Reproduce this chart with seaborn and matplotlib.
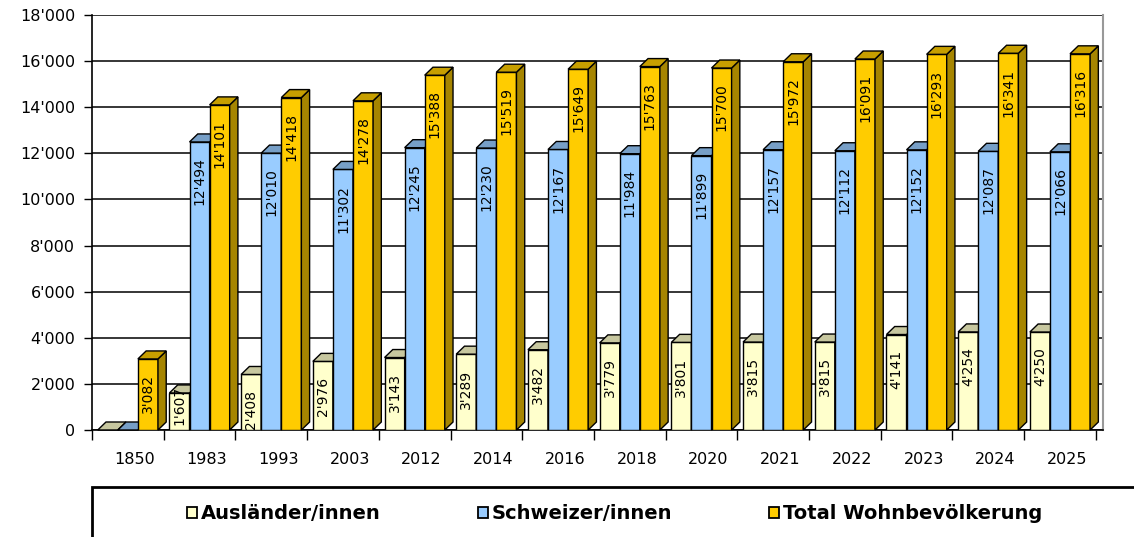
import numpy as np
import pandas as pd
import seaborn as sns
import matplotlib.pyplot as plt
from matplotlib.patches import Polygon, Rectangle
from matplotlib.colors import to_rgb
from matplotlib.ticker import FuncFormatter, FixedLocator
from matplotlib.transforms import ScaledTranslation

jahre = ["1850", "1983", "1993", "2003", "2012", "2014", "2016",
         "2018", "2020", "2021", "2022", "2023", "2024", "2025"]
auslaender = [0, 1607, 2408, 2976, 3143, 3289, 3482, 3779, 3801, 3815, 3815, 4141, 4254, 4250]
schweizer = [0, 12494, 12010, 11302, 12245, 12230, 12167, 11984, 11899, 12157, 12112, 12152, 12087, 12066]
total = [3082, 14101, 14418, 14278, 15388, 15519, 15649, 15763, 15700, 15972, 16091, 16293, 16341, 16316]

serien = ["Ausländer/innen", "Schweizer/innen", "Total Wohnbevölkerung"]
farben = ["#FFFFCC", "#99CCFF", "#FFCC00"]

df = pd.DataFrame({
    "Jahr": jahre * 3,
    "Serie": np.repeat(serien, len(jahre)),
    "Wert": auslaender + schweizer + total,
})


def fmt(v):
    return f"{v:,.0f}".replace(",", "'")


sns.set_style("white")
plt.rcParams["font.family"] = ["DejaVu Sans"]
plt.rcParams["text.color"] = "black"
plt.rcParams["xtick.color"] = "black"
plt.rcParams["ytick.color"] = "black"

fig = plt.figure(figsize=(11.34, 5.37), dpi=100)
ax = fig.add_axes([92 / 1134, 107 / 537, 1011 / 1134, 415 / 537])

sns.barplot(data=df, x="Jahr", y="Wert", hue="Serie", hue_order=serien,
            palette=farben, width=0.84, saturation=1, edgecolor="black",
            linewidth=1, errorbar=None, legend=False, ax=ax)

ax.set_xlim(-0.5, 13.6)
ax.set_ylim(0, 18000)

# pseudo 3D: top and side faces computed from the bars
dx = 0.115
dy = 8 * 18000 / 415
for i, cont in enumerate(ax.containers):
    base = np.array(to_rgb(farben[i]))
    top_c = base * 0.78
    side_c = base * 0.65
    for p in cont.patches:
        x0, w, h = p.get_x(), p.get_width(), p.get_height()
        x1 = x0 + w
        p.set_zorder(3 + i)
        top = Polygon([(x0, h), (x1, h), (x1 + dx, h + dy), (x0 + dx, h + dy)],
                      closed=True, fc=top_c, ec="black", lw=1, zorder=3 + i, clip_on=False)
        side = Polygon([(x1, 0), (x1, h), (x1 + dx, h + dy), (x1 + dx, dy)],
                       closed=True, fc=side_c, ec="black", lw=1, zorder=3 + i, clip_on=False)
        ax.add_patch(side)
        ax.add_patch(top)
        if h <= 0:
            continue
        xc = x0 + w / 2
        # short bar: label pokes out of the top like in the original
        off = 5 if h < 2000 else -11
        ax.annotate(fmt(h), (xc, h), xytext=(0, off), textcoords="offset points",
                    rotation=90, ha="center", va="top", fontsize=10, zorder=10)

ax.set_yticks(range(0, 18001, 2000))
ax.yaxis.set_major_formatter(FuncFormatter(lambda v, _: fmt(v)))
ax.yaxis.grid(True, color="black", lw=1.1)
ax.set_axisbelow(True)

ax.xaxis.set_minor_locator(FixedLocator(np.arange(-0.5, 13.6, 1)))
ax.tick_params(axis="x", which="major", length=0, pad=16, labelsize=11.5)
ax.tick_params(axis="x", which="minor", length=7, color="black", width=1, direction="out", bottom=True)
ax.tick_params(axis="y", length=6, color="black", width=1, direction="out", left=True, pad=6, labelsize=11.5)

# year labels sit a little right of the bars (depth of the floor)
shift = ScaledTranslation(7 / 100, 0, fig.dpi_scale_trans)
for lbl in ax.get_xticklabels():
    lbl.set_transform(lbl.get_transform() + shift)

ax.set_xlabel("")
ax.set_ylabel("")
for s in ["left", "bottom"]:
    ax.spines[s].set_color("black")
    ax.spines[s].set_linewidth(1.2)
ax.spines["top"].set_visible(False)
ax.spines["right"].set_color("#999999")
ax.spines["right"].set_linewidth(1.5)

# legend with frame at the bottom
fig.add_artist(Rectangle((92 / 1134, -0.1), 1.1, (537 - 487) / 537 + 0.1,
                         transform=fig.transFigure, fill=False, ec="black", lw=2))
handles = [Rectangle((0, 0), 1, 1, fc=c, ec="black", lw=1.3) for c in farben]
fig.legend(handles, serien, loc="center", bbox_to_anchor=(0.542, 0.043), ncol=3,
           frameon=False, prop={"weight": "bold", "size": 14},
           handlelength=0.5, handleheight=0.5, handletextpad=0.2, columnspacing=5)

fig.savefig("out.png", dpi=100)
